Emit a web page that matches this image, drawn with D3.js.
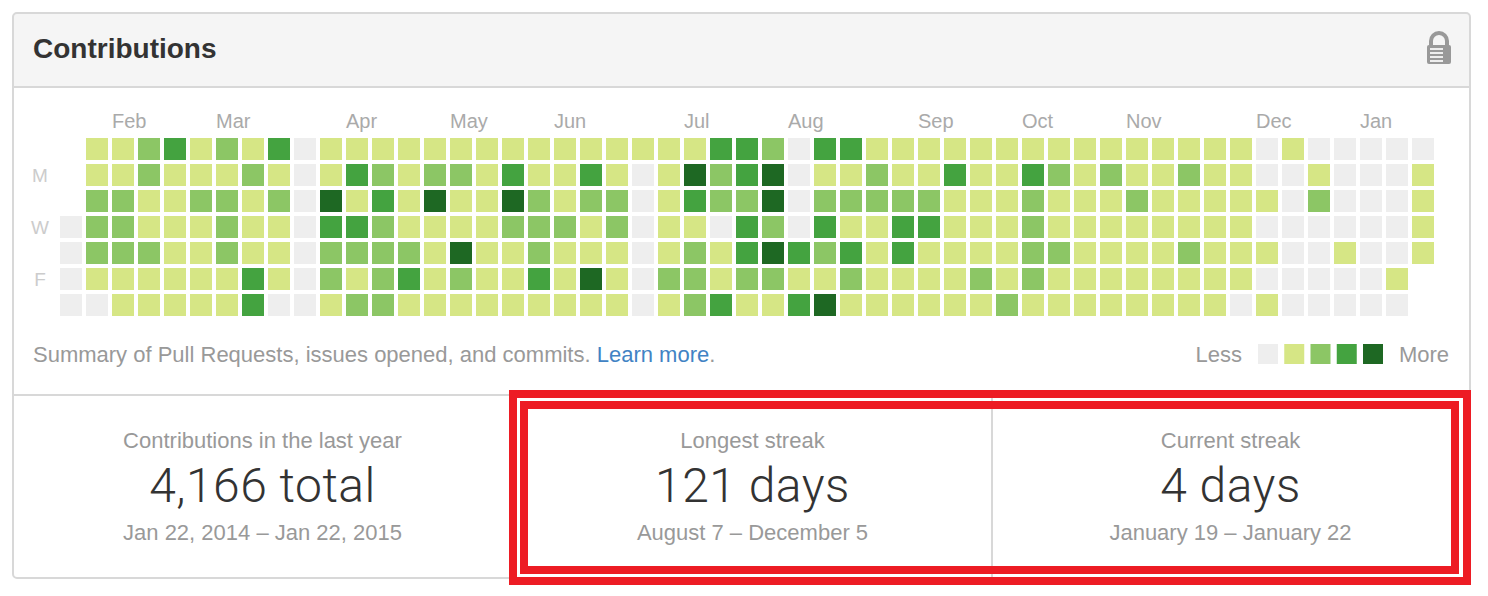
<!DOCTYPE html>
<html>
<head>
<meta charset="utf-8">
<script src="https://cdn.jsdelivr.net/npm/d3@7"></script>
<style>
  html, body { margin: 0; padding: 0; background: #fff; }
  svg { display: block; }
  text { font-family: "Liberation Sans", Arial, sans-serif; }
</style>
</head>
<body>
<div id="chart"></div>
<script>
// one string per weekday (Sun -> Sat), one char per week, "-" = no cell
const dayRows = [
  "-1123121301111111 111111113320331111 111111111110100000",
  "-1121112101321221 311310142340112113 113212112110010001",
  "-2211221204131411 421220132240222221 112111211111020001",
  "02211121103321111 222120110320311331 112111111110000001",
  "02221121102222141 121110121343231311 112211112111001001",
  "01111113102123121 131410221221121111 21211111111000001-",
  "00111113001221111 111110123113411111 12111111110100000-",
];
const levelColors = ["#eeeeee", "#d6e685", "#8cc665", "#44a340", "#1e6823"];

const monthNames = ["Feb", "Mar", "Apr", "May", "Jun", "Jul", "Aug", "Sep", "Oct", "Nov", "Dec", "Jan"];
const monthWeeks = [2, 6, 11, 15, 19, 24, 28, 33, 37, 41, 46, 50];
const dayNames = ["", "M", "", "W", "", "F", ""];

const statLabels = ["Contributions in the last year", "Longest streak", "Current streak"];
const statValues = ["4,166 total", "121 days", "4 days"];
const statRanges = ["Jan 22, 2014 – Jan 22, 2015", "August 7 – December 5", "January 19 – January 22"];

// Variables utiles
const width = 1488;
const height = 596;
const card = { left: 13, right: 1470, top: 13, bottom: 578, header: 87, split: 395 };
const border = "#d8d8d8";
const grey = "#999";

const svg = d3
  .select("#chart")
  .append("svg")
  .attr("width", width)
  .attr("height", height)
  .attr("viewBox", [0, 0, width, height]);

// card + header
svg
  .append("path")
  .attr("d", `M${card.left},${card.header}V${card.top + 4}q0,-4 4,-4H${card.right - 4}q4,0 4,4V${card.header}Z`)
  .attr("fill", "#f5f5f5");

svg
  .append("rect")
  .attr("x", card.left)
  .attr("y", card.top)
  .attr("width", card.right - card.left)
  .attr("height", card.bottom - card.top)
  .attr("rx", 4)
  .attr("fill", "none")
  .attr("stroke", border)
  .attr("stroke-width", 2);

[card.header, card.split].forEach((y) => {
  svg
    .append("line")
    .attr("x1", card.left)
    .attr("x2", card.right)
    .attr("y1", y)
    .attr("y2", y)
    .attr("stroke", border)
    .attr("stroke-width", 2);
});

svg
  .append("text")
  .attr("x", 33)
  .attr("y", 58)
  .attr("font-size", 28)
  .attr("font-weight", "bold")
  .attr("fill", "#333")
  .text("Contributions");

// cadenas
const lock = svg.append("g").attr("transform", "translate(1427,32)");
lock
  .append("path")
  .attr("d", "M4,14V9a8,8 0 0 1 16,0V14")
  .attr("fill", "none")
  .attr("stroke", grey)
  .attr("stroke-width", 4);
lock
  .append("rect")
  .attr("y", 13)
  .attr("width", 24)
  .attr("height", 19)
  .attr("rx", 2)
  .attr("fill", grey);
lock
  .selectAll(".bar")
  .data([16, 20, 24, 28])
  .enter()
  .append("rect")
  .attr("x", 3)
  .attr("y", (d) => d)
  .attr("width", 13)
  .attr("height", 2)
  .attr("fill", "#eee");

// grille
const rows = dayRows.map((r) => r.replace(/ /g, ""));
const cells = rows.flatMap((r, day) =>
  [...r].map((c, week) => ({ day, week, c })).filter((d) => d.c !== "-")
);

const x = d3
  .scaleBand()
  .domain(d3.range(rows[0].length))
  .range([60, 1434])
  .paddingInner(4 / 26);

const y = d3
  .scaleBand()
  .domain(d3.range(rows.length))
  .range([138, 316])
  .paddingInner(4 / 26);

const color = d3.scaleOrdinal(d3.range(levelColors.length), levelColors);

svg
  .selectAll(".cell")
  .data(cells)
  .enter()
  .append("rect")
  .attr("class", "cell")
  .attr("x", (d) => x(d.week))
  .attr("y", (d) => y(d.day))
  .attr("width", x.bandwidth())
  .attr("height", y.bandwidth())
  .attr("fill", (d) => color(+d.c));

svg
  .selectAll(".month")
  .data(monthNames)
  .enter()
  .append("text")
  .attr("class", "month")
  .attr("x", (d, i) => x(monthWeeks[i]))
  .attr("y", 128)
  .attr("font-size", 20)
  .attr("fill", "#aaa")
  .text((d) => d);

svg
  .selectAll(".day")
  .data(dayNames)
  .enter()
  .append("text")
  .attr("class", "day")
  .attr("x", 40)
  .attr("y", (d, i) => y(i) + y.bandwidth() / 2 + 7)
  .attr("text-anchor", "middle")
  .attr("font-size", 19)
  .attr("fill", "#ccc")
  .text((d) => d);

// bas de la grille
const summary = svg
  .append("text")
  .attr("x", 33)
  .attr("y", 362)
  .attr("font-size", 22)
  .attr("fill", grey);
summary.append("tspan").text("Summary of Pull Requests, issues opened, and commits. ");
summary.append("tspan").attr("fill", "#4183c4").text("Learn more");
summary.append("tspan").text(".");

// legende
const legendX = d3
  .scalePoint()
  .domain(d3.range(levelColors.length))
  .range([1258, 1363]);

svg
  .selectAll(".legend")
  .data(levelColors)
  .enter()
  .append("rect")
  .attr("class", "legend")
  .attr("x", (d, i) => legendX(i))
  .attr("y", 344)
  .attr("width", 20)
  .attr("height", 20)
  .attr("fill", (d) => d);

svg
  .append("text")
  .attr("x", 1242)
  .attr("y", 362)
  .attr("text-anchor", "end")
  .attr("font-size", 22)
  .attr("fill", grey)
  .text("Less");

svg
  .append("text")
  .attr("x", 1449)
  .attr("y", 362)
  .attr("text-anchor", "end")
  .attr("font-size", 22)
  .attr("fill", grey)
  .text("More");

// les 3 colonnes
const statCenters = [262.5, 752.5, 1230.5];

svg
  .append("line")
  .attr("x1", 992)
  .attr("x2", 992)
  .attr("y1", card.split)
  .attr("y2", card.bottom)
  .attr("stroke", border)
  .attr("stroke-width", 2);

statLabels.forEach((label, i) => {
  svg
    .append("text")
    .attr("x", statCenters[i])
    .attr("y", 448)
    .attr("text-anchor", "middle")
    .attr("font-size", 22)
    .attr("fill", grey)
    .text(label);
  svg
    .append("text")
    .attr("x", statCenters[i])
    .attr("y", 502)
    .attr("text-anchor", "middle")
    .attr("font-size", 48)
    .attr("font-weight", 300)
    .attr("letter-spacing", 0.5)
    .style("font-family", "Roboto, 'Liberation Sans', sans-serif")
    .attr("fill", "#333")
    .text(statValues[i]);
  svg
    .append("text")
    .attr("x", statCenters[i])
    .attr("y", 540)
    .attr("text-anchor", "middle")
    .attr("font-size", 22)
    .attr("fill", grey)
    .text(statRanges[i]);
});

// les cadres rouges
[
  { x: 509, y: 390, w: 962, h: 195 },
  { x: 520, y: 401, w: 939, h: 173 },
].forEach((b) => {
  svg
    .append("rect")
    .attr("x", b.x + 4)
    .attr("y", b.y + 4)
    .attr("width", b.w - 8)
    .attr("height", b.h - 8)
    .attr("fill", "none")
    .attr("stroke", "#ed1c24")
    .attr("stroke-width", 8);
});
</script>
</body>
</html>
